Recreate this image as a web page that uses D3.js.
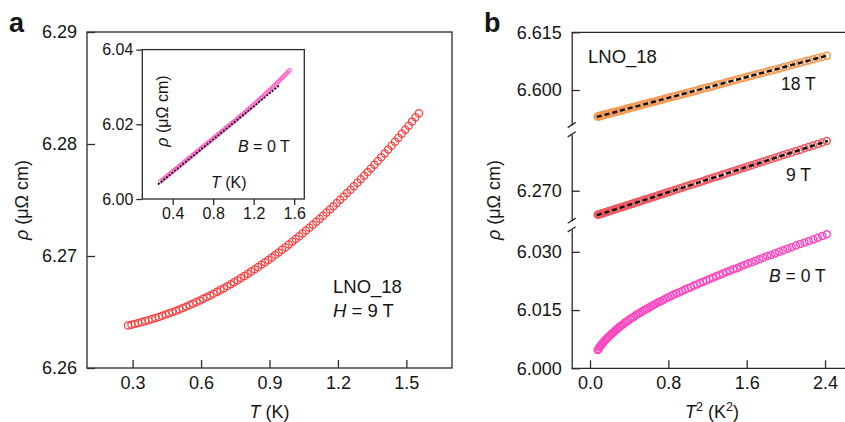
<!DOCTYPE html>
<html>
<head>
<meta charset="utf-8">
<script src="https://cdn.jsdelivr.net/npm/d3@7"></script>
<style>
body { margin: 0; background: #fff; }
svg { display: block; font-family: "Liberation Sans", Arial, sans-serif; }
</style>
</head>
<body>
<svg id="chart" width="845" height="422"></svg>
<script>
// Temperature sweep (K), shared by all field values
const temps = [0.280, 0.295, 0.310, 0.325, 0.340, 0.355, 0.370, 0.385, 0.400, 0.415,
    0.430, 0.445, 0.460, 0.475, 0.490, 0.505, 0.520, 0.535, 0.550, 0.565,
    0.580, 0.595, 0.610, 0.625, 0.640, 0.655, 0.670, 0.685, 0.700, 0.715,
    0.730, 0.745, 0.760, 0.775, 0.790, 0.805, 0.820, 0.835, 0.850, 0.865,
    0.880, 0.895, 0.910, 0.925, 0.940, 0.955, 0.970, 0.985, 1.000, 1.015,
    1.030, 1.045, 1.060, 1.075, 1.090, 1.105, 1.120, 1.135, 1.150, 1.165,
    1.180, 1.195, 1.210, 1.225, 1.240, 1.255, 1.270, 1.285, 1.300, 1.315,
    1.330, 1.345, 1.360, 1.375, 1.390, 1.405, 1.420, 1.435, 1.450, 1.465,
    1.480, 1.495, 1.510, 1.525, 1.540, 1.555]

// Resistivity (uOhm cm)
const rho9T = [6.26380, 6.26387, 6.26394, 6.26402, 6.26410, 6.26419, 6.26427, 6.26437, 6.26446, 6.26456,
    6.26466, 6.26477, 6.26488, 6.26499, 6.26511, 6.26523, 6.26536, 6.26548, 6.26562, 6.26575,
    6.26589, 6.26603, 6.26618, 6.26633, 6.26648, 6.26664, 6.26680, 6.26697, 6.26713, 6.26731,
    6.26748, 6.26766, 6.26784, 6.26803, 6.26822, 6.26841, 6.26861, 6.26881, 6.26902, 6.26923,
    6.26944, 6.26965, 6.26987, 6.27010, 6.27032, 6.27055, 6.27079, 6.27102, 6.27127, 6.27151,
    6.27176, 6.27201, 6.27227, 6.27253, 6.27279, 6.27306, 6.27333, 6.27360, 6.27388, 6.27416,
    6.27444, 6.27473, 6.27502, 6.27532, 6.27562, 6.27592, 6.27623, 6.27654, 6.27685, 6.27717,
    6.27749, 6.27782, 6.27815, 6.27848, 6.27882, 6.27916, 6.27950, 6.27985, 6.28020, 6.28055,
    6.28091, 6.28127, 6.28163, 6.28200, 6.28238, 6.28275]

const rho18T = [6.5931, 6.5932, 6.5932, 6.5933, 6.5934, 6.5934, 6.5935, 6.5936, 6.5937, 6.5937,
    6.5938, 6.5939, 6.5940, 6.5941, 6.5942, 6.5943, 6.5944, 6.5945, 6.5946, 6.5947,
    6.5948, 6.5950, 6.5951, 6.5952, 6.5953, 6.5955, 6.5956, 6.5957, 6.5959, 6.5960,
    6.5962, 6.5963, 6.5965, 6.5966, 6.5968, 6.5969, 6.5971, 6.5973, 6.5974, 6.5976,
    6.5978, 6.5980, 6.5982, 6.5983, 6.5985, 6.5987, 6.5989, 6.5991, 6.5993, 6.5995,
    6.5997, 6.5999, 6.6002, 6.6004, 6.6006, 6.6008, 6.6010, 6.6013, 6.6015, 6.6017,
    6.6020, 6.6022, 6.6025, 6.6027, 6.6030, 6.6032, 6.6035, 6.6037, 6.6040, 6.6042,
    6.6045, 6.6048, 6.6051, 6.6053, 6.6056, 6.6059, 6.6062, 6.6065, 6.6068, 6.6071,
    6.6074, 6.6077, 6.6080, 6.6083, 6.6086, 6.6089]

const rho0T = [6.0047, 6.0050, 6.0054, 6.0057, 6.0060, 6.0064, 6.0067, 6.0070, 6.0074, 6.0077,
    6.0080, 6.0083, 6.0087, 6.0090, 6.0093, 6.0097, 6.0100, 6.0103, 6.0107, 6.0110,
    6.0113, 6.0117, 6.0120, 6.0123, 6.0127, 6.0130, 6.0133, 6.0137, 6.0140, 6.0143,
    6.0146, 6.0150, 6.0153, 6.0156, 6.0160, 6.0163, 6.0166, 6.0170, 6.0173, 6.0176,
    6.0180, 6.0183, 6.0186, 6.0190, 6.0193, 6.0196, 6.0199, 6.0203, 6.0206, 6.0209,
    6.0213, 6.0216, 6.0220, 6.0223, 6.0226, 6.0230, 6.0233, 6.0237, 6.0240, 6.0244,
    6.0248, 6.0251, 6.0255, 6.0258, 6.0262, 6.0266, 6.0270, 6.0273, 6.0277, 6.0281,
    6.0285, 6.0289, 6.0292, 6.0296, 6.0300, 6.0304, 6.0308, 6.0312, 6.0316, 6.0320,
    6.0324, 6.0328, 6.0332, 6.0336, 6.0341, 6.0345]

// Fits (end points)
const fit0T = [0.255, 1.457]
const fit0Rho = [6.0039, 6.0305]
const fitT2 = [0.07, 2.43]
const fit18Rho = [6.5930, 6.6090]
const fit9Rho = [6.2637, 6.2828]

// Ticks
const ticksAx = [0.3, 0.6, 0.9, 1.2, 1.5]
const ticksAy = [6.26, 6.27, 6.28, 6.29]
const ticksInsetX = [0.4, 0.8, 1.2, 1.6]
const ticksInsetY = [6.00, 6.02, 6.04]
const ticksBx = [0.0, 0.8, 1.6, 2.4]
const ticksBLow = [6.000, 6.015, 6.030]
const ticksBMid = [6.270]
const ticksBTop = [6.600, 6.615]

// Colors
const axisColor = '#2b2b2b'
const textColor = '#151515'
const red9Color = '#ff3d3d'
const b9Color = '#f05a62'
const b18Color = '#f39a55'
const b0Color = '#ff47c0'
const insetColor = '#ff55c6'

const svg = d3.select('#chart')

function styleAxis(g, fontSize) {
    g.attr('font-family', null).attr('font-size', null)
    g.selectAll('.tick line').attr('stroke', axisColor).attr('stroke-width', 1.3)
    g.selectAll('.domain').attr('stroke', axisColor).attr('stroke-width', 1.3)
    g.selectAll('.tick text').attr('fill', textColor).style('font-size', fontSize + 'px')
}

// ---------- Panel a ----------
const xA = d3.scaleLinear([0.1, 1.7], [87, 452])
const yA = d3.scaleLinear([6.26, 6.29], [368, 32])

svg.append('g').attr('transform', 'translate(0,368)')
    .call(d3.axisBottom(xA).tickValues(ticksAx).tickFormat(d3.format('.1f')).tickSize(-8).tickPadding(8))
    .call(g => g.select('.domain').remove())
    .call(g => styleAxis(g, 18))
svg.append('g').attr('transform', 'translate(87,0)')
    .call(d3.axisLeft(yA).tickValues(ticksAy).tickFormat(d3.format('.2f')).tickSize(-8).tickPadding(10))
    .call(g => g.select('.domain').remove())
    .call(g => styleAxis(g, 18))

svg.append('rect')
    .attr('x', xA.range()[0]).attr('y', yA.range()[1])
    .attr('width', xA.range()[1] - xA.range()[0]).attr('height', yA.range()[0] - yA.range()[1])
    .attr('fill', 'none').attr('stroke', axisColor).attr('stroke-width', 1.3)

svg.append('g').selectAll('circle')
    .data(temps.map((t, i) => [t, rho9T[i]]))
    .join('circle')
    .attr('cx', d => xA(d[0])).attr('cy', d => yA(d[1])).attr('r', 3.6)
    .attr('fill', 'none').attr('stroke', red9Color).attr('stroke-width', 1.25)

// Inset
const xI = d3.scaleLinear([0.1, 1.7], [142.3, 304.3])
const yI = d3.scaleLinear([6.00, 6.04], [199, 49.6])

svg.append('g').attr('transform', 'translate(0,199)')
    .call(d3.axisBottom(xI).tickValues(ticksInsetX).tickFormat(d3.format('.1f')).tickSize(6).tickPadding(3))
    .call(g => g.select('.domain').remove())
    .call(g => styleAxis(g, 16))
svg.append('g').attr('transform', 'translate(142.3,0)')
    .call(d3.axisLeft(yI).tickValues(ticksInsetY).tickFormat(d3.format('.2f')).tickSize(6).tickPadding(3))
    .call(g => g.select('.domain').remove())
    .call(g => styleAxis(g, 16))

svg.append('rect')
    .attr('x', xI.range()[0]).attr('y', yI.range()[1])
    .attr('width', xI.range()[1] - xI.range()[0]).attr('height', yI.range()[0] - yI.range()[1])
    .attr('fill', 'none').attr('stroke', axisColor).attr('stroke-width', 1.3)

svg.append('g').selectAll('circle')
    .data(temps.map((t, i) => [t, rho0T[i]]))
    .join('circle')
    .attr('cx', d => xI(d[0])).attr('cy', d => yI(d[1])).attr('r', 1.9)
    .attr('fill', 'none').attr('stroke', insetColor).attr('stroke-width', 1)

svg.append('path')
    .datum(fit0T.map((t, i) => [t, fit0Rho[i]]))
    .attr('d', d3.line().x(d => xI(d[0])).y(d => yI(d[1])))
    .attr('fill', 'none').attr('stroke', '#111').attr('stroke-width', 1.8)
    .attr('stroke-dasharray', '2,1.5')

// ---------- Panel b ----------
const xB = d3.scaleLinear([-0.187, 2.604], [571.7, 845])
const segLow = { scale: d3.scaleLinear([6.000, 6.0358], [368.3, 229.3]), ticks: ticksBLow }
const segMid = { scale: d3.scaleLinear([6.2623, 6.2845], [220.7, 134.3]), ticks: ticksBMid }
const segTop = { scale: d3.scaleLinear([6.5909, 6.615], [125, 32.3]), ticks: ticksBTop }
const segments = [segLow, segMid, segTop]

segments.forEach(seg => {
    svg.append('g').attr('transform', 'translate(571.7,0)')
        .call(d3.axisLeft(seg.scale).tickValues(seg.ticks).tickFormat(d3.format('.3f'))
            .tickSize(-8).tickSizeOuter(0).tickPadding(10))
        .call(g => styleAxis(g, 18))
})

// axis break marks
;[segLow.scale.range()[1], segMid.scale.range()[0], segMid.scale.range()[1], segTop.scale.range()[0]].forEach(y => {
    svg.append('line')
        .attr('x1', 567.7).attr('y1', y + 2.6).attr('x2', 575.7).attr('y2', y - 2.6)
        .attr('stroke', axisColor).attr('stroke-width', 1.3)
})

svg.append('g').attr('transform', 'translate(0,368.3)')
    .call(d3.axisBottom(xB).tickValues(ticksBx).tickFormat(d3.format('.1f')).tickSize(-8).tickPadding(8))
    .call(g => g.select('.domain').remove())
    .call(g => styleAxis(g, 18))

svg.append('line').attr('x1', 571.7).attr('x2', 845).attr('y1', 368.3).attr('y2', 368.3)
    .attr('stroke', axisColor).attr('stroke-width', 1.3)
svg.append('line').attr('x1', 571.7).attr('x2', 845).attr('y1', 32.3).attr('y2', 32.3)
    .attr('stroke', axisColor).attr('stroke-width', 1.3)

function drawSeries(values, seg, color) {
    svg.append('g').selectAll('circle')
        .data(temps.map((t, i) => [t * t, values[i]]))
        .join('circle')
        .attr('cx', d => xB(d[0])).attr('cy', d => seg.scale(d[1])).attr('r', 3.5)
        .attr('fill', 'none').attr('stroke', color).attr('stroke-width', 1.5)
}
drawSeries(rho18T, segTop, b18Color)
drawSeries(rho9T, segMid, b9Color)
drawSeries(rho0T, segLow, b0Color)

function drawFit(values, seg) {
    svg.append('path')
        .datum(fitT2.map((t2, i) => [t2, values[i]]))
        .attr('d', d3.line().x(d => xB(d[0])).y(d => seg.scale(d[1])))
        .attr('fill', 'none').attr('stroke', '#111').attr('stroke-width', 2.4)
        .attr('stroke-dasharray', '5,3')
}
drawFit(fit18Rho, segTop)
drawFit(fit9Rho, segMid)

// ---------- Texts ----------
function addText(x, y, size, parts, opts = {}) {
    const t = svg.append('text').attr('x', x).attr('y', y)
        .attr('fill', textColor).style('font-size', size + 'px')
        .attr('text-anchor', opts.anchor || 'start')
    if (opts.bold) t.style('font-weight', 'bold')
    if (opts.rotate) t.attr('transform', `rotate(-90,${x},${y})`)
    parts.forEach(p => {
        const s = t.append('tspan').text(p.t)
        if (p.i) s.style('font-style', 'italic')
        if (p.sup) s.attr('baseline-shift', 'super').style('font-size', (size * 0.7) + 'px')
    })
    return t
}

addText(9, 32, 27, [{ t: 'a' }], { bold: true })
addText(484, 32, 27, [{ t: 'b' }], { bold: true })

const rhoLabel = [{ t: 'ρ', i: true }, { t: ' (μΩ cm)' }]
addText(269.5, 418, 18, [{ t: 'T', i: true }, { t: ' (K)' }], { anchor: 'middle' })
addText(28, 200, 18, rhoLabel, { anchor: 'middle', rotate: true })
addText(333, 293, 18.5, [{ t: 'LNO_18' }])
addText(333, 317, 18.5, [{ t: 'H', i: true }, { t: ' = 9 T' }])

addText(168, 111, 16, rhoLabel, { anchor: 'middle', rotate: true })
addText(238, 152, 16, [{ t: 'B', i: true }, { t: ' = 0 T' }])
addText(211, 188, 16, [{ t: 'T', i: true }, { t: ' (K)' }])

addText(712, 418, 18, [{ t: 'T', i: true }, { t: '2', sup: true }, { t: ' (K' }, { t: '2', sup: true }, { t: ')' }], { anchor: 'middle' })
addText(500, 200, 18, rhoLabel, { anchor: 'middle', rotate: true })
addText(588, 62.5, 18.5, [{ t: 'LNO_18' }])
addText(781, 90, 17.5, [{ t: '18 T' }])
addText(786, 181, 17.5, [{ t: '9 T' }])
addText(769, 282, 17.5, [{ t: 'B', i: true }, { t: ' = 0 T' }])
</script>
</body>
</html>
